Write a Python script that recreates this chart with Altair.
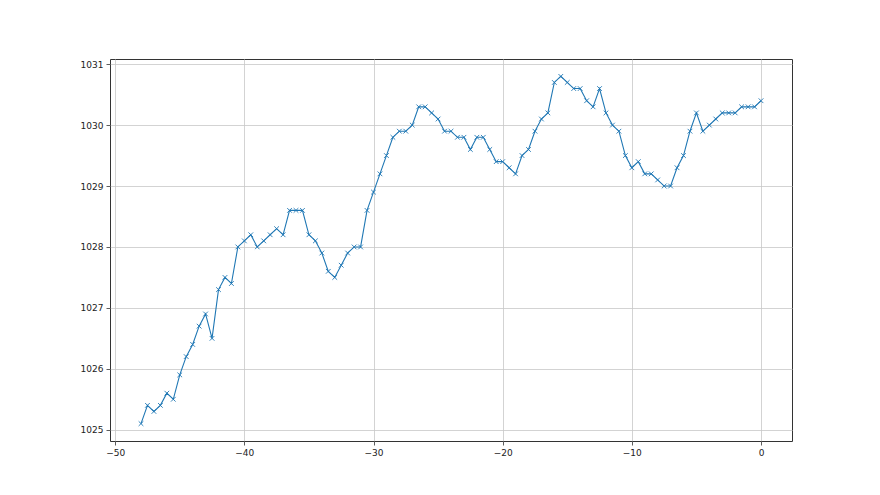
import altair as alt
import pandas as pd

x_values = [i * 0.5 - 48 for i in range(97)]
pressure = [
    1025.1, 1025.4, 1025.3, 1025.4, 1025.6, 1025.5, 1025.9, 1026.2, 1026.4, 1026.7,
    1026.9, 1026.5, 1027.3, 1027.5, 1027.4, 1028.0, 1028.1, 1028.2, 1028.0, 1028.1,
    1028.2, 1028.3, 1028.2, 1028.6, 1028.6, 1028.6, 1028.2, 1028.1, 1027.9, 1027.6,
    1027.5, 1027.7, 1027.9, 1028.0, 1028.0, 1028.6, 1028.9, 1029.2, 1029.5, 1029.8,
    1029.9, 1029.9, 1030.0, 1030.3, 1030.3, 1030.2, 1030.1, 1029.9, 1029.9, 1029.8,
    1029.8, 1029.6, 1029.8, 1029.8, 1029.6, 1029.4, 1029.4, 1029.3, 1029.2, 1029.5,
    1029.6, 1029.9, 1030.1, 1030.2, 1030.7, 1030.8, 1030.7, 1030.6, 1030.6, 1030.4,
    1030.3, 1030.6, 1030.2, 1030.0, 1029.9, 1029.5, 1029.3, 1029.4, 1029.2, 1029.2,
    1029.1, 1029.0, 1029.0, 1029.3, 1029.5, 1029.9, 1030.2, 1029.9, 1030.0, 1030.1,
    1030.2, 1030.2, 1030.2, 1030.3, 1030.3, 1030.3, 1030.4,
]
x_ticks = [-50, -40, -30, -20, -10, 0]
y_ticks = [1025, 1026, 1027, 1028, 1029, 1030, 1031]

df = pd.DataFrame({"x": x_values, "y": pressure})

xenc = alt.X("x:Q", scale=alt.Scale(domain=[-50.4, 2.4], nice=False, zero=False),
             axis=alt.Axis(values=x_ticks, title=None, format="d"))
yenc = alt.Y("y:Q", scale=alt.Scale(domain=[1024.815, 1031.085], nice=False, zero=False),
             axis=alt.Axis(values=y_ticks, title=None, format="d"))

line = alt.Chart(df).mark_line(color="#1f77b4", strokeWidth=1.1).encode(x=xenc, y=yenc)
pts = alt.Chart(df).mark_point(
    shape="M-1,-1L1,1M-1,1L1,-1", filled=False, color="#1f77b4", size=22,
    strokeWidth=0.9, opacity=1
).encode(x=xenc, y=yenc)

chart = (line + pts).properties(
    width=682, height=382,
    autosize=alt.AutoSizeParams(type="none"),
    padding={"left": 102, "top": 51, "right": 80, "bottom": 46},
).configure_view(stroke="#333333", strokeWidth=1).configure_axis(
    domain=False,
    grid=True, gridColor="#c8c8c8", gridWidth=0.8,
    tickColor="#333333", tickSize=4, tickWidth=0.8,
    labelFont="DejaVu Sans", labelFontSize=9, labelColor="#222222", labelPadding=3,
)

chart.save("out.html", embed_options={"renderer": "svg", "actions": False})
